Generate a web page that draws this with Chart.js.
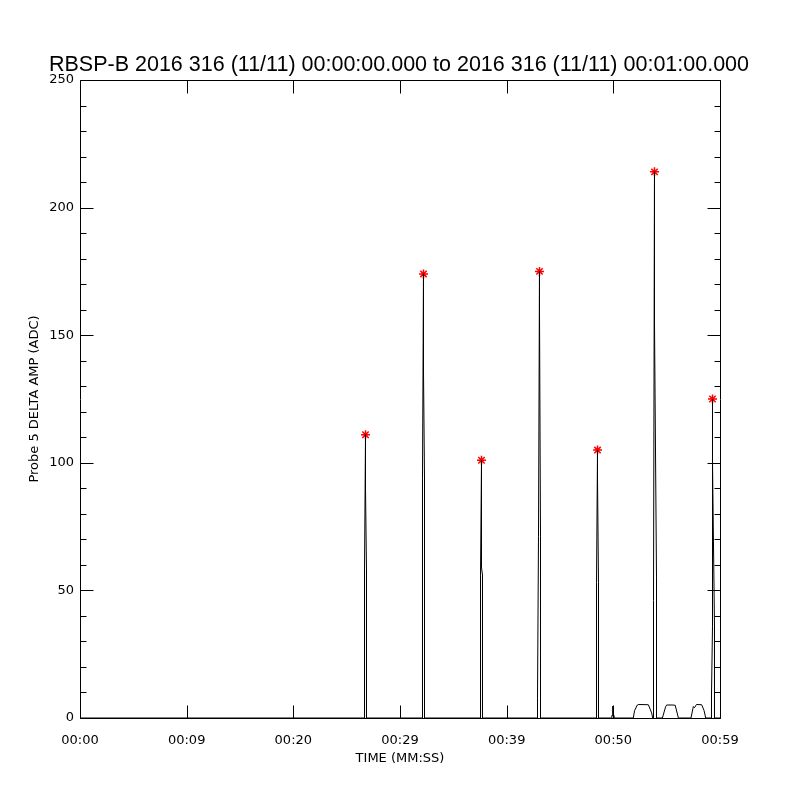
<!DOCTYPE html>
<html>
<head>
<meta charset="utf-8">
<script src="https://cdn.jsdelivr.net/npm/chart.js@4.4.1/dist/chart.umd.min.js"></script>
<style>
  body { margin: 0; background: #fff; }
</style>
</head>
<body>
<canvas id="grafico" width="800" height="800"></canvas>
<script>
// ##############################
//   Datos
// ##############################
// tiempo en segundos desde 00:00:00
var tiempos = [
  0,
  26.672, 26.672, 26.766, 26.766, 26.859, 26.859,
  32.109, 32.109, 32.203, 32.203, 32.297, 32.297,
  37.547, 37.547, 37.641, 37.641, 37.734, 37.734,
  42.891, 42.891, 42.984, 43.078, 43.078, 43.172, 43.172,
  48.422, 48.422, 48.516, 48.516, 48.609, 48.609,
  49.84, 49.86, 49.93, 49.95, 49.97, 50.04, 50.06,
  51.87, 52.00, 52.25, 52.40, 53.28, 53.45, 53.59, 53.69,
  53.766, 53.766, 53.859, 53.859, 54.047, 54.047,
  54.60, 54.90, 55.00, 55.50, 55.80, 56.10,
  57.28, 57.50, 57.60, 57.80, 58.28, 58.50, 58.66,
  59.203, 59.203, 59.297, 59.297, 59.297, 59.484, 59.484,
  60
];
// amplitud (ADC)
var amplitud = [
  0,
  0, 58, 111, 90, 58, 0,
  0, 94, 174, 136, 94, 0,
  0, 56, 101, 59, 56, 0,
  0, 7.5, 71, 175, 160, 71, 0,
  0, 53, 105, 94, 53, 0,
  0, 1, 1, 4.7, 1, 1, 0,
  0, 3, 5.1, 5.3, 5.2, 3.5, 2, 0,
  0, 46, 214, 155, 55, 0,
  0, 4.4, 5.1, 5.1, 5.0, 0,
  0, 4.5, 4.0, 5.3, 5.2, 3, 0,
  0, 9, 36, 125, 100, 36, 0,
  0
];

// picos marcados con asterisco rojo
var picosTiempo = [26.766, 32.203, 37.641, 43.078, 48.516, 53.859, 59.297];
var picosValor  = [111, 174, 101, 175, 105, 214, 125];

// ejes
var xTicks = [0, 10, 20, 30, 40, 50, 60];
var xEtiquetas = ['00:00', '00:09', '00:20', '00:29', '00:39', '00:50', '00:59'];
var yTicks = [0, 50, 100, 150, 200, 250];

var titulo = 'RBSP-B 2016 316 (11/11) 00:00:00.000 to 2016 316 (11/11) 00:01:00.000';
var tituloX = 'TIME (MM:SS)';
var tituloY = 'Probe 5 DELTA AMP (ADC)';

// ##############################
//   Plugin: marco, ticks y textos
// ##############################
var marcoPlugin = {
  id: 'marco',
  afterDraw: function (chart) {
    var ctx = chart.ctx;
    var a = chart.chartArea;
    var xs = chart.scales.x;
    var ys = chart.scales.y;
    var l = Math.round(a.left) + 0.5, r = Math.round(a.right) + 0.5;
    var t = Math.round(a.top) + 0.5, b = Math.round(a.bottom) + 0.5;

    ctx.save();
    ctx.strokeStyle = '#000';
    ctx.lineWidth = 1;
    ctx.beginPath();
    ctx.rect(l, t, r - l, b - t);

    // ticks eje y (menores cada 10)
    for (var v = 0; v <= 250; v += 10) {
      var y = Math.round(ys.getPixelForValue(v)) + 0.5;
      var len = (v % 50 === 0) ? 13 : 6;
      ctx.moveTo(l, y); ctx.lineTo(l + len, y);
      ctx.moveTo(r, y); ctx.lineTo(r - len, y);
    }
    // ticks eje x
    xTicks.forEach(function (tv) {
      var x = Math.round(xs.getPixelForValue(tv)) + 0.5;
      ctx.moveTo(x, b); ctx.lineTo(x, b - 13);
      ctx.moveTo(x, t); ctx.lineTo(x, t + 13);
    });
    ctx.stroke();

    // textos
    ctx.fillStyle = '#000';
    ctx.textAlign = 'center';
    ctx.textBaseline = 'middle';
    ctx.font = '21.5px "Liberation Sans"';
    ctx.fillText(titulo, 399, 65);

    ctx.font = '13px "DejaVu Sans"';
    ctx.fillText(tituloX, (a.left + a.right) / 2, 759);

    ctx.translate(35, (a.top + a.bottom) / 2);
    ctx.rotate(-Math.PI / 2);
    ctx.fillText(tituloY, 0, 0);
    ctx.restore();
  }
};

// ##############################
//   Grafico
// ##############################
Chart.defaults.font.family = '"DejaVu Sans"';
Chart.defaults.font.size = 13;
Chart.defaults.color = '#000';

var serie = tiempos.map(function (tv, i) { return { x: tv, y: amplitud[i] }; });
var picos = picosTiempo.map(function (tv, i) { return { x: tv, y: picosValor[i] }; });

var ctxGrafico = document.getElementById('grafico').getContext('2d');
var grafico = new Chart(ctxGrafico, {
  type: 'line',
  data: {
    datasets: [{
      data: serie,
      borderColor: '#000',
      borderWidth: 1,
      pointRadius: 0,
      tension: 0,
      fill: false
    }, {
      data: picos,
      showLine: false,
      pointStyle: 'star',
      pointRadius: 4.5,
      borderWidth: 1.5,
      borderColor: '#ff0000',
      backgroundColor: '#ff0000'
    }]
  },
  plugins: [marcoPlugin],
  options: {
    responsive: false,
    animation: false,
    devicePixelRatio: 1,
    layout: { padding: { top: 80, right: 80, left: 0, bottom: 0 } },
    plugins: {
      legend: { display: false },
      tooltip: { enabled: false }
    },
    scales: {
      x: {
        type: 'linear',
        min: 0,
        max: 60,
        afterBuildTicks: function (scale) {
          scale.ticks = xTicks.map(function (v) { return { value: v }; });
        },
        afterFit: function (scale) { scale.height = 82; },
        grid: { display: false, drawTicks: false },
        border: { display: false },
        ticks: {
          padding: 15,
          maxRotation: 0,
          autoSkip: false,
          callback: function (value, index) { return xEtiquetas[index]; }
        }
      },
      y: {
        type: 'linear',
        min: 0,
        max: 250,
        afterBuildTicks: function (scale) {
          scale.ticks = yTicks.map(function (v) { return { value: v }; });
        },
        afterFit: function (scale) { scale.width = 80; },
        grid: { display: false, drawTicks: false },
        border: { display: false },
        ticks: { padding: 6 }
      }
    }
  }
});
</script>
</body>
</html>
